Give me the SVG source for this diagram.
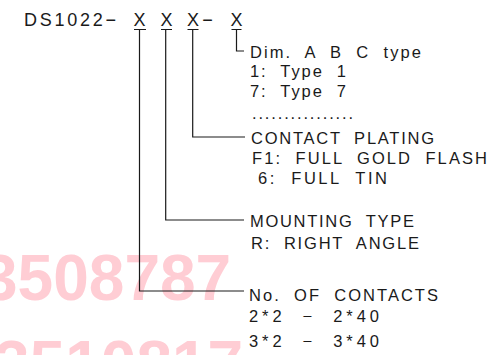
<svg xmlns="http://www.w3.org/2000/svg" width="488" height="355" viewBox="0 0 488 355">
<style>
.wm{font-family:"Liberation Sans",Arial,sans-serif;font-weight:bold;font-size:64px;fill:#ffcdd4}
.hd{font-family:"Liberation Sans",Arial,sans-serif;font-size:18px;fill:#1a1a1a}
.t{font-family:"Liberation Sans",Arial,sans-serif;font-size:16.5px;fill:#1a1a1a;white-space:pre}
.ln{fill:none;stroke:#1a1a1a;stroke-width:1.2}
</style>
<rect width="488" height="355" fill="#ffffff"/>
<g id="watermark">
<text class="wm" x="-18" y="300">3508787</text>
<text class="wm" x="-6" y="386">3510817</text>
</g>
<g id="header">
<text class="hd" y="25.5"><tspan x="24" textLength="92" lengthAdjust="spacing">DS1022−</tspan><tspan x="139.5" text-anchor="middle">X</tspan><tspan x="166.5" text-anchor="middle">X</tspan><tspan x="193" text-anchor="middle">X</tspan><tspan x="207.5" text-anchor="middle">−</tspan><tspan x="236.5" text-anchor="middle">X</tspan></text>
</g>
<g id="connectors">
<path class="ln" d="M134,29.5H146M139.5,29.5V291H244"/>
<path class="ln" d="M161,29.5H172M165.7,29.5V220H244"/>
<path class="ln" d="M187.5,29.5H198.5M192.7,29.5V137H245"/>
<path class="ln" d="M231.5,29.5H241.5M236.5,29.5V51H244"/>
</g>
<g id="type">
<text class="t" xml:space="preserve" x="250" y="57.5" textLength="171" lengthAdjust="spacing">Dim.  A  B  C  type</text>
<text class="t" xml:space="preserve" x="250" y="76.5" textLength="96" lengthAdjust="spacing">1:  Type  1</text>
<text class="t" xml:space="preserve" x="250" y="96.5" textLength="96" lengthAdjust="spacing">7:  Type  7</text>
<text class="t" x="252" y="119" textLength="101" lengthAdjust="spacing">................</text>
</g>
<g id="plating">
<text class="t" xml:space="preserve" x="251" y="143.5" textLength="183" lengthAdjust="spacing">CONTACT  PLATING</text>
<text class="t" xml:space="preserve" x="252" y="163.5" textLength="235" lengthAdjust="spacing">F1:  FULL  GOLD  FLASH</text>
<text class="t" xml:space="preserve" x="258" y="183.5" textLength="129" lengthAdjust="spacing">6:  FULL  TIN</text>
</g>
<g id="mounting">
<text class="t" xml:space="preserve" x="250" y="226.5" textLength="164" lengthAdjust="spacing">MOUNTING  TYPE</text>
<text class="t" xml:space="preserve" x="251" y="249" textLength="168" lengthAdjust="spacing">R:  RIGHT  ANGLE</text>
</g>
<g id="contacts">
<text class="t" xml:space="preserve" x="249" y="301" textLength="189" lengthAdjust="spacing">No.  OF  CONTACTS</text>
<text class="t" xml:space="preserve" x="249" y="322" textLength="130" lengthAdjust="spacing">2*2  −  2*40</text>
<text class="t" xml:space="preserve" x="249" y="347" textLength="130" lengthAdjust="spacing">3*2  −  3*40</text>
</g>
</svg>
